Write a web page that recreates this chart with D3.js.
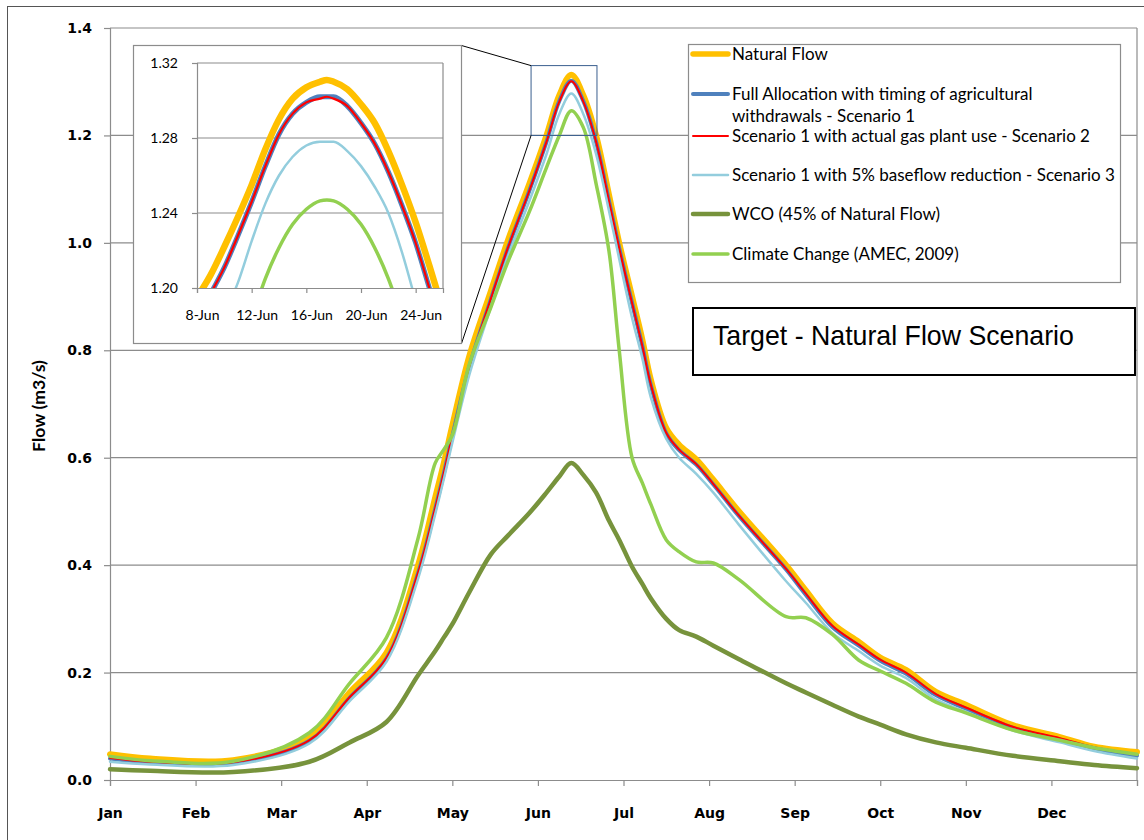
<!DOCTYPE html>
<html>
<head>
<meta charset="utf-8">
<script src="https://cdn.jsdelivr.net/npm/d3@7"></script>
<style>
  body { margin: 0; background: #fff; }
  svg { display: block; }
</style>
</head>
<body>
<svg id="chart" width="1144" height="840"></svg>
<script>
// ---- data ----
const monthLabels = ['Jan', 'Feb', 'Mar', 'Apr', 'May', 'Jun', 'Jul', 'Aug', 'Sep', 'Oct', 'Nov', 'Dec'];
const yTicks = [0, 0.2, 0.4, 0.6, 0.8, 1.0, 1.2, 1.4];

// position of each sample in months from 1 Jan
const monthPos = [0, 0.47, 1.44, 2.33, 2.8, 3.23, 3.6, 3.8, 3.9, 4.0, 4.2, 4.45, 4.65, 4.9, 5.1, 5.25, 5.39, 5.53, 5.68, 5.83, 5.95,
  6.1, 6.22, 6.32, 6.5, 6.65, 6.85, 7.05, 7.35, 7.9, 8.13, 8.44, 8.75, 9.0, 9.3, 9.65, 10.0, 10.55, 11.1, 11.5, 12];

const naturalFlow = [0.048, 0.040, 0.037, 0.080, 0.163, 0.237, 0.400, 0.526, 0.590, 0.660, 0.790, 0.910, 1.005, 1.110, 1.200, 1.275, 1.313, 1.275, 1.200, 1.090, 1.000,
  0.900, 0.820, 0.745, 0.655, 0.624, 0.597, 0.559, 0.500, 0.400, 0.353, 0.292, 0.257, 0.228, 0.205, 0.164, 0.140, 0.102, 0.080, 0.062, 0.052];
const scenario1 = [0.040, 0.033, 0.032, 0.073, 0.153, 0.226, 0.385, 0.505, 0.570, 0.640, 0.770, 0.895, 0.990, 1.097, 1.188, 1.264, 1.302, 1.264, 1.188, 1.078, 0.990,
  0.888, 0.808, 0.735, 0.645, 0.614, 0.587, 0.550, 0.491, 0.392, 0.345, 0.285, 0.250, 0.222, 0.198, 0.158, 0.133, 0.097, 0.075, 0.058, 0.045];
const scenario2 = [0.041, 0.034, 0.033, 0.074, 0.154, 0.227, 0.386, 0.506, 0.571, 0.641, 0.771, 0.896, 0.991, 1.097, 1.188, 1.263, 1.301, 1.263, 1.188, 1.078, 0.990,
  0.888, 0.808, 0.736, 0.646, 0.615, 0.588, 0.551, 0.492, 0.393, 0.347, 0.287, 0.252, 0.224, 0.200, 0.160, 0.135, 0.099, 0.078, 0.061, 0.048];
const scenario3 = [0.034, 0.029, 0.028, 0.068, 0.147, 0.220, 0.375, 0.495, 0.560, 0.628, 0.755, 0.880, 0.975, 1.078, 1.165, 1.240, 1.278, 1.240, 1.165, 1.060, 0.970,
  0.860, 0.785, 0.712, 0.635, 0.600, 0.570, 0.535, 0.475, 0.370, 0.330, 0.274, 0.240, 0.213, 0.190, 0.150, 0.127, 0.092, 0.070, 0.054, 0.040];
const wco = [0.020, 0.017, 0.015, 0.034, 0.070, 0.108, 0.195, 0.240, 0.265, 0.290, 0.350, 0.420, 0.455, 0.497, 0.535, 0.565, 0.590, 0.568, 0.535, 0.483, 0.447,
  0.397, 0.365, 0.338, 0.300, 0.279, 0.267, 0.250, 0.225, 0.180, 0.163, 0.140, 0.118, 0.103, 0.085, 0.070, 0.060, 0.045, 0.035, 0.028, 0.022];
const climateChange = [0.044, 0.036, 0.035, 0.088, 0.180, 0.265, 0.450, 0.590, 0.615, 0.642, 0.775, 0.880, 0.965, 1.058, 1.140, 1.200, 1.246, 1.215, 1.110, 0.985, 0.800,
  0.600, 0.553, 0.513, 0.447, 0.425, 0.406, 0.404, 0.373, 0.304, 0.302, 0.271, 0.223, 0.203, 0.180, 0.145, 0.125, 0.093, 0.074, 0.060, 0.048];

// inset: days of June
const insetDays = [8, 9, 10, 11, 12, 13, 14, 15, 16, 17, 17.5, 18, 19, 20, 21, 22, 23, 24, 25, 26];
const insetNatural = [1.195, 1.207, 1.222, 1.238, 1.255, 1.274, 1.290, 1.301, 1.307, 1.310, 1.311, 1.310, 1.306, 1.298, 1.288, 1.273, 1.255, 1.235, 1.212, 1.188];
const insetScen1 = [1.183, 1.197, 1.211, 1.228, 1.246, 1.265, 1.282, 1.293, 1.299, 1.302, 1.302, 1.302, 1.297, 1.288, 1.277, 1.262, 1.244, 1.224, 1.200, 1.176];
const insetScen2 = [1.183, 1.197, 1.211, 1.228, 1.246, 1.265, 1.282, 1.293, 1.299, 1.301, 1.302, 1.301, 1.297, 1.288, 1.277, 1.262, 1.244, 1.224, 1.200, 1.176];
const insetScen3 = [1.155, 1.170, 1.186, 1.203, 1.225, 1.245, 1.260, 1.270, 1.276, 1.278, 1.278, 1.278, 1.273, 1.265, 1.254, 1.240, 1.219, 1.193, 1.165, 1.140];
const insetClimate = [1.110, 1.130, 1.150, 1.165, 1.184, 1.205, 1.2215, 1.234, 1.242, 1.2465, 1.247, 1.2465, 1.242, 1.234, 1.2215, 1.205, 1.184, 1.160, 1.135, 1.110];
const insetXTicks = [8, 12, 16, 20, 24];
const insetXLabels = ['8-Jun', '12-Jun', '16-Jun', '20-Jun', '24-Jun'];
const insetYTicks = [1.20, 1.24, 1.28, 1.32];

// window on the main chart that the inset enlarges
const zoomMonths = [4.92, 5.69];
const zoomFlow = [1.20, 1.33];

const series = [
  { name: 'Natural Flow', values: naturalFlow, inset: insetNatural, color: '#FFC000', width: 6, iw: 6.5 },
  { name: 'Full Allocation with timing of agricultural|withdrawals - Scenario 1', values: scenario1, inset: insetScen1, color: '#4F81BD', width: 4, iw: 5 },
  { name: 'Scenario 1 with actual gas plant use - Scenario 2', values: scenario2, inset: insetScen2, color: '#FF0000', width: 2, iw: 2.2 },
  { name: 'Scenario 1 with 5% baseflow reduction - Scenario 3', values: scenario3, inset: insetScen3, color: '#93CDDD', width: 2.5, iw: 2.5 },
  { name: 'WCO (45% of Natural Flow)', values: wco, inset: null, color: '#77933C', width: 4.5, iw: 4 },
  { name: 'Climate Change (AMEC, 2009)', values: climateChange, inset: insetClimate, color: '#92D050', width: 3.5, iw: 3.5 }
];

const svg = d3.select('#chart');
const grid = '#8c8c8c';
const tickFont = '"DejaVu Sans", Verdana, sans-serif';
const textFont = 'Lato, "Open Sans", sans-serif';

// outer chart border
svg.append('rect')
  .attr('x', 7.5).attr('y', 6.5).attr('width', 1150).attr('height', 850)
  .attr('fill', '#fff').attr('stroke', '#555');

const x = d3.scaleLinear().domain([0, 12]).range([110, 1137]);
const y = d3.scaleLinear().domain([0, 1.4]).range([780, 28]);

// gridlines + right border
svg.append('g').selectAll('line').data(yTicks.slice(1)).join('line')
  .attr('x1', x(0)).attr('x2', x(12))
  .attr('y1', d => y(d)).attr('y2', d => y(d))
  .attr('stroke', grid).attr('stroke-width', 1.2);
svg.append('line')
  .attr('x1', x(12)).attr('x2', x(12)).attr('y1', y(1.4)).attr('y2', y(0))
  .attr('stroke', grid).attr('stroke-width', 1.2);

const gy = svg.append('g').attr('transform', `translate(${x(0)},0)`)
  .call(d3.axisLeft(y).tickValues(yTicks).tickFormat(d3.format('.1f')).tickSize(6).tickPadding(12));
const gx = svg.append('g').attr('transform', `translate(0,${y(0)})`)
  .call(d3.axisBottom(x).tickValues(d3.range(13)).tickFormat(i => monthLabels[i] || '').tickSize(6).tickPadding(22));
[gx, gy].forEach(g => {
  g.select('.domain').attr('stroke', grid).attr('stroke-width', 1.2);
  g.selectAll('.tick line').attr('stroke', grid).attr('stroke-width', 1.2);
  g.selectAll('.tick text').attr('fill', '#000')
    .style('font-family', tickFont).style('font-size', '14px').style('font-weight', 'bold');
});

const yTitle = svg.append('text')
  .attr('transform', 'translate(45,406) rotate(-90)')
  .attr('text-anchor', 'middle')
  .style('font-family', '"Liberation Sans Narrow", "Arial Narrow", Lato, sans-serif')
  .style('font-size', '15px').style('font-weight', 'bold')
  .text('Flow (m3/s)');
yTitle.style('font-size', (15 * 92 / yTitle.node().getComputedTextLength()) + 'px');

// main lines
const line = d3.line()
  .x((d, i) => x(monthPos[i]))
  .y(d => y(d))
  .curve(d3.curveCatmullRom.alpha(0.5));

svg.append('g').selectAll('path').data(series).join('path')
  .attr('d', s => line(s.values))
  .attr('fill', 'none')
  .attr('stroke', s => s.color)
  .attr('stroke-width', s => s.width)
  .attr('stroke-linejoin', 'round')
  .attr('stroke-linecap', 'round');

// zoom window and connectors
const zx0 = x(zoomMonths[0]), zx1 = x(zoomMonths[1]);
const zy0 = y(zoomFlow[1]), zy1 = y(zoomFlow[0]);
svg.append('rect')
  .attr('x', zx0).attr('y', zy0).attr('width', zx1 - zx0).attr('height', zy1 - zy0)
  .attr('fill', 'none').attr('stroke', '#3b5f8f').attr('stroke-width', 1);

// inset
const inset = { left: 133.5, top: 45.5, right: 461.5, bottom: 343.5 };
svg.append('line').attr('x1', inset.right).attr('y1', inset.top).attr('x2', zx0).attr('y2', zy0)
  .attr('stroke', '#000').attr('stroke-width', 1);
svg.append('line').attr('x1', inset.right).attr('y1', inset.bottom).attr('x2', zx0).attr('y2', zy1)
  .attr('stroke', '#000').attr('stroke-width', 1);
svg.append('rect')
  .attr('x', inset.left).attr('y', inset.top)
  .attr('width', inset.right - inset.left).attr('height', inset.bottom - inset.top)
  .attr('fill', '#fff').attr('stroke', grid).attr('stroke-width', 1.2);

const xi = d3.scaleLinear().domain([8, 26]).range([197, 443]);
const yi = d3.scaleLinear().domain([1.20, 1.32]).range([288, 63]);

svg.append('g').selectAll('line').data(insetYTicks.slice(1)).join('line')
  .attr('x1', xi(8)).attr('x2', xi(26))
  .attr('y1', d => yi(d)).attr('y2', d => yi(d))
  .attr('stroke', grid).attr('stroke-width', 1.2);
svg.append('line')
  .attr('x1', xi(26)).attr('x2', xi(26)).attr('y1', yi(1.32)).attr('y2', yi(1.20))
  .attr('stroke', grid).attr('stroke-width', 1.2);

const giy = svg.append('g').attr('transform', `translate(${xi(8)},0)`)
  .call(d3.axisLeft(yi).tickValues(insetYTicks).tickFormat(d3.format('.2f')).tickSize(5).tickPadding(14));
const gix = svg.append('g').attr('transform', `translate(0,${yi(1.20)})`)
  .call(d3.axisBottom(xi).tickValues(insetXTicks).tickFormat((d, i) => insetXLabels[i]).tickSize(5).tickPadding(17));
[gix, giy].forEach(g => {
  g.select('.domain').attr('stroke', grid).attr('stroke-width', 1.2);
  g.selectAll('.tick line').attr('stroke', grid).attr('stroke-width', 1.2);
  g.selectAll('.tick text').attr('fill', '#000')
    .style('font-family', textFont).style('font-size', '14px');
});
gix.selectAll('.tick text').attr('dx', 5);

svg.append('clipPath').attr('id', 'insetClip')
  .append('rect').attr('x', xi(8)).attr('y', 50).attr('width', xi(26) - xi(8)).attr('height', yi(1.20) - 50);

const insetLine = d3.line()
  .x((d, i) => xi(insetDays[i]))
  .y(d => yi(d))
  .curve(d3.curveMonotoneX);

svg.append('g').attr('clip-path', 'url(#insetClip)')
  .selectAll('path').data(series.filter(s => s.inset)).join('path')
  .attr('d', s => insetLine(s.inset))
  .attr('fill', 'none')
  .attr('stroke', s => s.color)
  .attr('stroke-width', s => s.iw)
  .attr('stroke-linejoin', 'round');

// legend
const legend = svg.append('g');
legend.append('rect')
  .attr('x', 688.5).attr('y', 44.5).attr('width', 432).attr('height', 238)
  .attr('fill', '#fff').attr('stroke', grid).attr('stroke-width', 1.2);
const legendY = [54, 94, 136, 175, 214, 254];
const items = legend.selectAll('g.item').data(series).join('g')
  .attr('class', 'item')
  .attr('transform', (d, i) => `translate(0,${legendY[i]})`);
items.append('line')
  .attr('x1', 693).attr('x2', 728)
  .attr('stroke', d => d.color)
  .attr('stroke-width', d => Math.min(d.width, 5.5))
  .attr('stroke-linecap', 'round');
const legendText = items.append('text')
  .attr('x', 732)
  .style('font-family', textFont).style('font-size', '15px')
  .attr('fill', '#000');
legendText.selectAll('tspan').data(d => d.name.split('|')).join('tspan')
  .attr('x', 732)
  .attr('y', (d, i) => i * 22)
  .attr('dy', '0.35em')
  .text(d => d);

// fit legend font to the widest entry in the reference (383px)
const widest = legendText.filter(d => d.name.startsWith('Scenario 1 with 5%')).node();
const legendSize = 15 * 383 / widest.getComputedTextLength();
legendText.style('font-size', legendSize + 'px');

// target box
svg.append('rect')
  .attr('x', 693).attr('y', 308).attr('width', 442).attr('height', 67)
  .attr('fill', '#fff').attr('stroke', '#000').attr('stroke-width', 2);
const target = svg.append('text')
  .attr('x', 713).attr('y', 345)
  .style('font-family', '"Liberation Sans", Arial, sans-serif').style('font-size', '25px')
  .text('Target - Natural Flow Scenario');
target.style('font-size', (25 * 361 / target.node().getComputedTextLength()) + 'px');
</script>
</body>
</html>
